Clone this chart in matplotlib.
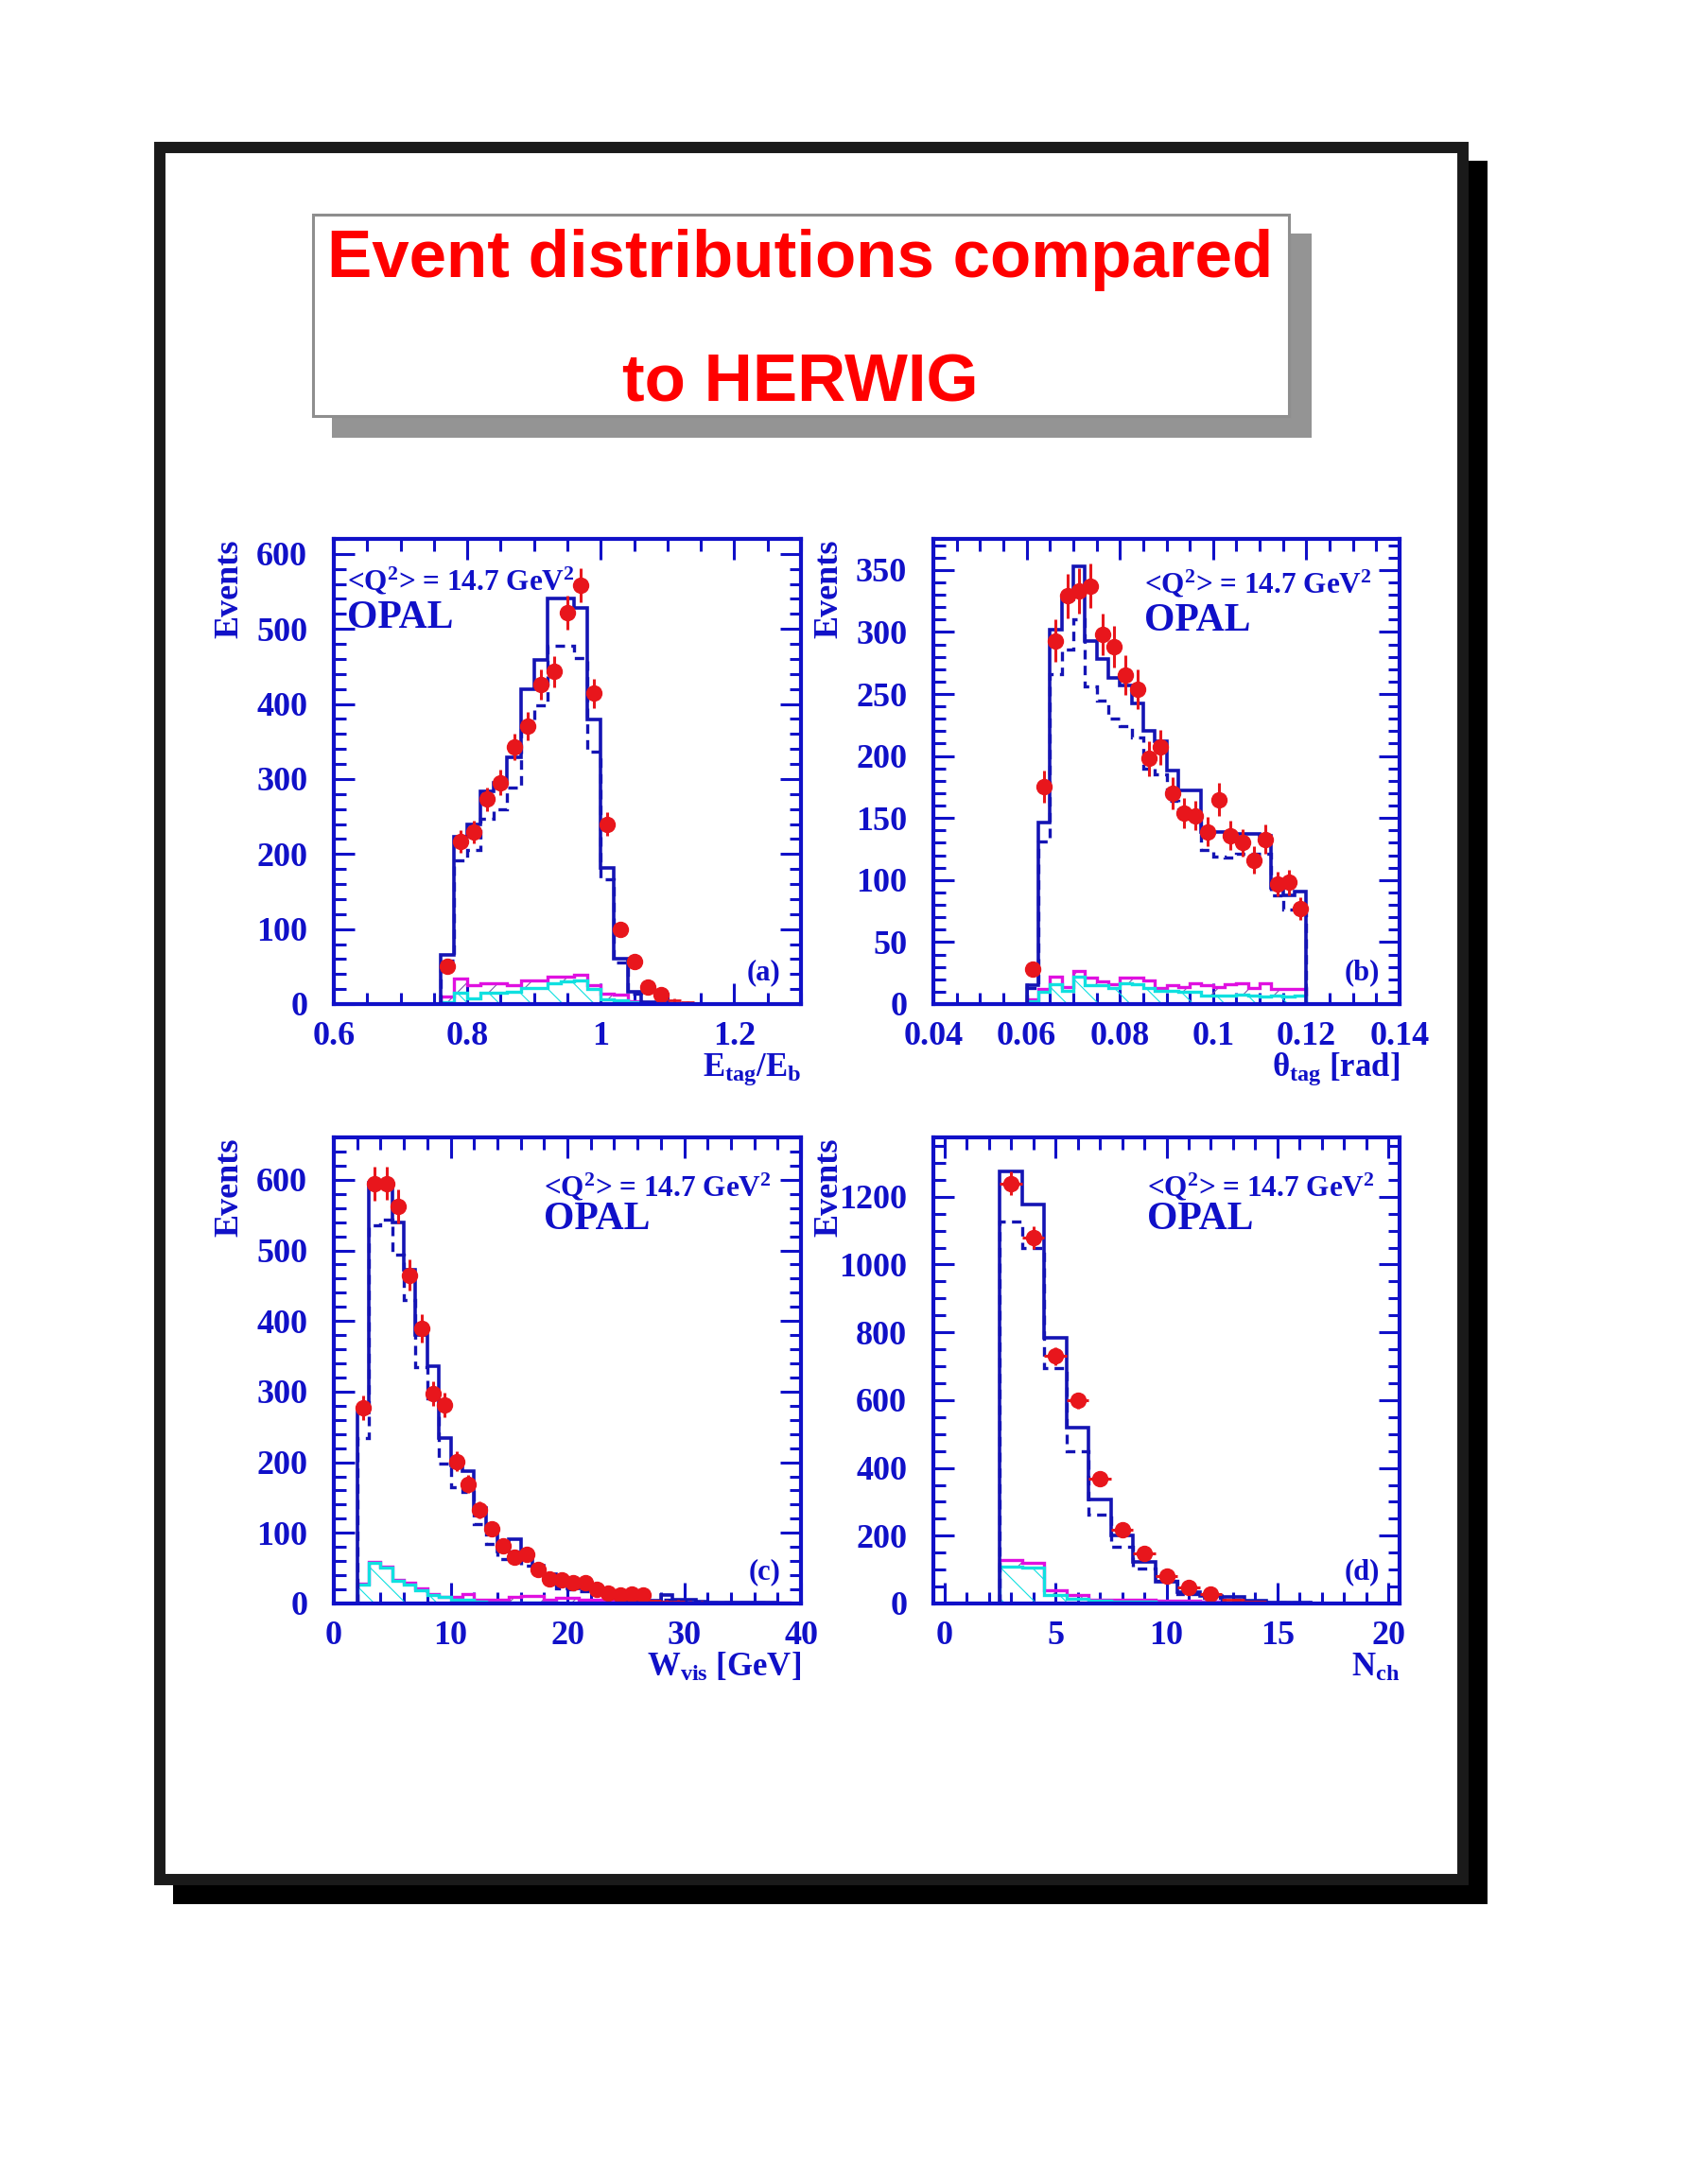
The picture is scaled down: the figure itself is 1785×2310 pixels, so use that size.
import numpy as np
import matplotlib
matplotlib.use("Agg")
import matplotlib.pyplot as plt
from matplotlib.patches import Rectangle
from matplotlib.ticker import MultipleLocator, FuncFormatter

plt.rcParams['font.family'] = ['Liberation Serif', 'DejaVu Serif']
plt.rcParams['font.weight'] = 'bold'
plt.rcParams['mathtext.fontset'] = 'custom'
plt.rcParams['mathtext.rm'] = 'Liberation Serif:bold'
plt.rcParams['mathtext.bf'] = 'Liberation Serif:bold'
plt.rcParams['mathtext.it'] = 'Liberation Serif:bold'
plt.rcParams['hatch.linewidth'] = 0.8

# ---- data ----
# (a) E_tag/E_b, bins of 0.02 starting at 0.76
a_lo, a_bin = 0.76, 0.02
a_solid = [65, 223, 239, 284, 295, 329, 420, 459, 540, 540, 528, 379, 181, 60, 17, 3, 1, 0, 0]
a_dash = [58, 191, 206, 247, 259, 289, 374, 398, 478, 478, 461, 336, 166, 56, 14, 3, 1, 0, 0]
a_data = [51, 217, 229, 273, 295, 343, 370, 426, 443, 522, 558, 414, 240, 99, 57, 23, 12, 5, 2]
a_err = [7, 15, 15, 16, 17, 18, 19, 20, 21, 23, 23, 20, 16, 10, 8, 5, 3.5, 2, 1.4]
a_mag = [10, 34, 25, 28, 28, 25, 31, 31, 36, 37, 39, 25, 14, 13, 4, 2, 1, 0, 0]
a_cyan = [3, 15, 8, 15, 15, 17, 22, 22, 28, 30, 31, 20, 6, 5, 3, 1, 1, 0.5, 0]

# (b) theta_tag, bins of 0.0025 starting at 0.06
b_lo, b_bin = 0.06, 0.0025
b_solid = [15, 146, 302, 326, 353, 293, 278, 263, 257, 242, 220, 212, 188, 172, 172, 139, 139, 135,
           137, 137, 136, 94, 88, 91]
b_dash = [13, 131, 266, 286, 310, 256, 245, 230, 224, 215, 190, 185, 164, 158, 152, 124, 119, 118,
          121, 121, 121, 88, 76, 77]
b_data = [28, 175, 293, 329, 333, 337, 298, 288, 265, 254, 198, 207, 170, 154, 152, 139, 165, 136,
          130, 116, 133, 97, 98, 77]
b_err = [5, 13, 17, 18, 18, 18, 17, 17, 16, 16, 14, 14, 13, 12, 12, 12, 13, 12, 11, 11, 12, 10, 10, 9]
b_mag = [4, 12, 22, 14, 27, 21, 18, 16, 21, 21, 19, 13, 15, 14, 17, 15, 14, 16, 17, 13, 17, 12, 12, 12]
b_cyan = [2, 10, 16, 11, 22, 15, 15, 13, 17, 16, 13, 11, 11, 10, 10, 7, 7, 7, 8, 7, 6, 7, 6, 7]

# (c) W_vis, 1 GeV bins starting at 2
c_lo, c_bin = 2.0, 1.0
c_solid = [271, 596, 590, 539, 473, 380, 336, 234, 195, 187, 135, 104, 74, 91, 69, 54, 41, 36, 21, 22,
           21, 16, 10, 8, 8, 4, 12, 6, 5, 3, 2, 2, 2, 1, 1, 1, 0, 0]
c_dash = [234, 536, 543, 494, 430, 335, 291, 198, 165, 158, 112, 85, 63, 74, 54, 45, 36, 21, 20, 17,
          15, 11, 8, 6, 5, 4, 6, 4, 3, 2, 2, 1, 1, 1, 1, 0, 0, 0]
c_data = [277, 594, 595, 562, 465, 390, 297, 281, 201, 169, 133, 106, 82, 65, 70, 48, 35, 33, 29, 29,
          20, 15, 12, 14, 12, 4, 3, 3, 2, 2, 1, 1, 1, 1, 1, 1, 0, 0]
c_err = [17, 24, 24, 24, 22, 20, 17, 17, 14, 13, 12, 10, 9, 8, 8, 7, 6, 6, 5, 5,
         4.5, 4, 3.5, 4, 3.5, 2, 1.7, 1.7, 1.4, 1.4, 1, 1, 1, 1, 1, 1, 0, 0]
c_mag = [28, 59, 52, 33, 29, 21, 13, 10, 10, 13, 6, 6, 6, 10, 11, 11, 6, 8, 8, 6,
         5, 5, 4, 6, 5, 3, 3, 2, 2, 2, 2, 2, 2, 1, 1, 1, 1, 0]
c_cyan = [27, 58, 51, 32, 27, 19, 12, 9, 6, 5, 3, 2, 1, 1, 1, 1, 1, 0.5, 0.5, 0.5,
          0.5, 0.5, 0, 0, 0, 0, 0, 0, 0, 0, 0, 0, 0, 0, 0, 0, 0, 0]

# (d) N_ch, unit bins centred on integers 0..20
d_lo, d_bin = -0.5, 1.0
d_solid = [0, 0, 0, 1275, 1177, 785, 518, 307, 201, 124, 64, 33, 22, 20, 9, 4, 2, 1, 1, 1, 0]
d_dash = [0, 0, 0, 1127, 1048, 695, 450, 261, 168, 103, 66, 28, 17, 11, 6, 3, 2, 1, 1, 0, 0]
d_data = [0, 0, 0, 1239, 1079, 730, 599, 369, 218, 147, 80, 47, 28, 10, 6, 3, 2, 1, 2, 1, 0]
d_err = [0, 0, 0, 35, 33, 27, 24, 19, 15, 12, 9, 7, 5, 3, 2.4, 1.7, 1.4, 1, 1.4, 1, 0]
d_mag = [0, 0, 0, 127, 121, 39, 24, 11, 11, 10, 9, 7, 5, 3, 2, 2, 1, 1, 0, 0, 0]
d_cyan = [0, 0, 0, 110, 105, 24, 13, 9, 6, 5, 4, 3, 2, 1, 1, 0, 0, 0, 0, 0, 0]

q_text = "<Q$^2$> = 14.7 GeV$^2$"

BLUE = '#1010c8'
HBLUE = '#1414b4'
RED = '#e8161c'
MAG = '#e010e0'
CYAN = '#10e0e0'

W, H = 1785, 2310
fig = plt.figure(figsize=(W / 100, H / 100), dpi=100)


def box(x0, y0, x1, y1):
    # pixel box (top-left origin) -> figure fraction rectangle args
    return (x0 / W, 1 - y1 / H), (x1 - x0) / W, (y1 - y0) / H


# page frame with shadow
xy, w, h = box(183, 170, 1573, 2014)
fig.patches.append(Rectangle(xy, w, h, transform=fig.transFigure, facecolor='black',
                             edgecolor='none', zorder=-10))
xy, w, h = box(169, 156, 1547, 1988)
fig.patches.append(Rectangle(xy, w, h, transform=fig.transFigure, facecolor='white',
                             edgecolor='#1a1a1a', lw=8.6, zorder=-9))
# title box with shadow
xy, w, h = box(351, 247, 1387, 463)
fig.patches.append(Rectangle(xy, w, h, transform=fig.transFigure, facecolor='#949494',
                             edgecolor='none', zorder=-8))
xy, w, h = box(330.5, 226.5, 1362.5, 439.5)
fig.patches.append(Rectangle(xy, w, h, transform=fig.transFigure, facecolor='white',
                             edgecolor='#8e8e8e', lw=2.2, zorder=-7))
fig.text(846.5 / W, 1 - 293 / H, "Event distributions compared", ha='center', va='baseline',
         fontsize=51, family='Liberation Sans', weight='bold', color='#ff0000')
fig.text(846.5 / W, 1 - 425 / H, "to HERWIG", ha='center', va='baseline',
         fontsize=51, family='Liberation Sans', weight='bold', color='#ff0000')


def trimmed(vals, edges):
    v = np.asarray(vals, dtype=float)
    nz = np.nonzero(v)[0]
    i0, i1 = nz[0], nz[-1] + 1
    return v[i0:i1], edges[i0:i1 + 1]


def panel(rect, lo, binw, solid, dash, data, err, mag, cyan, xlim, ylim,
          xmaj, xmin, ymaj, ymin, xlabel, tag, qx, qy, oy, use_xerr=False):
    x0, y0, x1, y1 = rect
    xy, w, h = box(x0, y0, x1, y1)
    ax = fig.add_axes([xy[0], xy[1], w, h])
    n = len(solid)
    edges = lo + binw * np.arange(n + 1)
    centers = 0.5 * (edges[:-1] + edges[1:])

    ax.axhline(0, color=RED, lw=2.5, zorder=1)

    cy = np.asarray(cyan, dtype=float)
    mg = np.maximum(np.asarray(mag, dtype=float), cy)
    ax.stairs(cy, edges, baseline=0, fill=True, facecolor='none', edgecolor=CYAN,
              hatch='\\', lw=0, zorder=2)
    ax.stairs(mg, edges, baseline=cy, fill=True, facecolor='none', edgecolor='#7a5aa8',
              hatch='/', lw=0, zorder=2)
    v, e = trimmed(mag, edges)
    ax.stairs(v, e, baseline=0, color=MAG, lw=2.4, zorder=3)
    v, e = trimmed(cyan, edges)
    ax.stairs(v, e, baseline=0, color=CYAN, lw=2.4, zorder=3)
    v, e = trimmed(dash, edges)
    ax.stairs(v, e, baseline=0, color=HBLUE, lw=2.4, ls=(0, (3, 2)), zorder=4)
    v, e = trimmed(solid, edges)
    ax.stairs(v, e, baseline=0, color=HBLUE, lw=2.6, zorder=5)
    ax.plot([e[0], e[-1]], [0, 0], color=HBLUE, lw=2.6, zorder=5)

    d = np.asarray(data, dtype=float)
    er = np.asarray(err, dtype=float)
    big = d > 0.015 * ylim[1]
    small = (d > 0) & ~big
    xe = binw / 2 if use_xerr else None
    ax.errorbar(centers[big], d[big], yerr=er[big], xerr=xe, fmt='o', color=RED, ms=11.5,
                elinewidth=2.2, capsize=0, zorder=6)
    ax.errorbar(centers[small], d[small], yerr=er[small], xerr=binw / 2, fmt='none',
                ecolor=RED, elinewidth=2.0, capsize=0, zorder=6)

    ax.set_xlim(*xlim)
    ax.set_ylim(*ylim)
    ax.xaxis.set_major_locator(MultipleLocator(xmaj))
    ax.xaxis.set_minor_locator(MultipleLocator(xmin))
    ax.yaxis.set_major_locator(MultipleLocator(ymaj))
    ax.yaxis.set_minor_locator(MultipleLocator(ymin))
    fmt = FuncFormatter(lambda val, pos: f"{round(val, 6):g}")
    ax.xaxis.set_major_formatter(fmt)
    ax.yaxis.set_major_formatter(fmt)
    ax.tick_params(which='both', direction='in', top=True, right=True, color=BLUE,
                   labelcolor=BLUE, labelsize=26, width=2.2)
    ax.tick_params(which='major', length=16)
    ax.tick_params(which='minor', length=9)
    ax.tick_params(axis='y', pad=20)
    ax.tick_params(axis='x', pad=13)
    for lab in ax.get_xticklabels() + ax.get_yticklabels():
        lab.set_fontweight('bold')
    for sp in ax.spines.values():
        sp.set_color(BLUE)
        sp.set_linewidth(3)
        sp.set_zorder(8)

    ax.text(-0.223, 1.0, "Events", rotation=90, ha='center', va='top', transform=ax.transAxes,
            fontsize=26, color=BLUE)
    ax.text(1.0, -0.155, xlabel, ha='right', va='baseline', transform=ax.transAxes,
            fontsize=25, color=BLUE)
    ax.text(0.957, 0.053, tag, ha='right', va='baseline', transform=ax.transAxes,
            fontsize=22, color=BLUE)
    ax.text(qx, qy, q_text, ha='left', va='baseline', transform=ax.transAxes,
            fontsize=22.5, color=BLUE)
    ax.text(qx, oy, "OPAL", ha='left', va='baseline', transform=ax.transAxes,
            fontsize=30, color=BLUE)
    return ax


panel((353, 570, 847, 1062), a_lo, a_bin, a_solid, a_dash, a_data, a_err, a_mag, a_cyan,
      (0.6, 1.3), (0, 620), 0.2, 0.05, 100, 20,
      "E$_\\mathrm{tag}$/E$_\\mathrm{b}$", "(a)", 0.028, 0.89, 0.808)
panel((987, 570, 1480, 1062), b_lo, b_bin, b_solid, b_dash, b_data, b_err, b_mag, b_cyan,
      (0.04, 0.14), (0, 375), 0.02, 0.005, 50, 10,
      "θ$_\\mathrm{tag}$ [rad]", "(b)", 0.453, 0.883, 0.802)
panel((353, 1203, 847, 1696), c_lo, c_bin, c_solid, c_dash, c_data, c_err, c_mag, c_cyan,
      (0, 40), (0, 660), 10, 2, 100, 20,
      "W$_\\mathrm{vis}$ [GeV]", "(c)", 0.45, 0.874, 0.803)
panel((987, 1203, 1480, 1696), d_lo, d_bin, d_solid, d_dash, d_data, d_err, d_mag, d_cyan,
      (-0.5, 20.5), (0, 1375), 5, 1, 200, 50,
      "N$_\\mathrm{ch}$", "(d)", 0.458, 0.874, 0.803, use_xerr=True)

fig.savefig("out.png", dpi=100)
